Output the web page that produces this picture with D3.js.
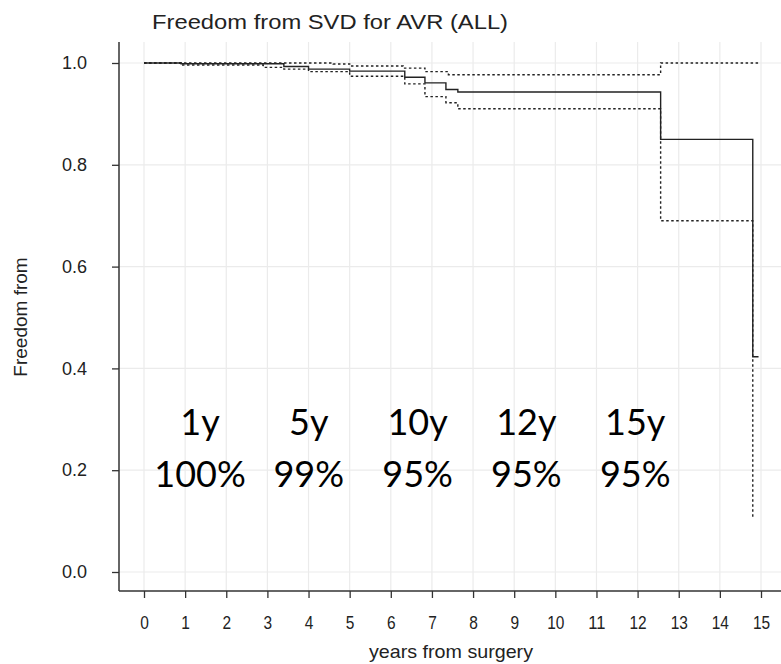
<!DOCTYPE html>
<html>
<head>
<meta charset="utf-8">
<script src="https://cdn.jsdelivr.net/npm/d3@7"></script>
<style>
  html, body { margin: 0; padding: 0; background: #fff; }
  svg { display: block; }
</style>
</head>
<body>
<svg id="chart" width="781" height="664"></svg>
<script>
// ---- data ----
const chartTitle = "Freedom from SVD for AVR (ALL)";
const xTicks = [0,1,2,3,4,5,6,7,8,9,10,11,12,13,14,15];
const yTicks = [0.0, 0.2, 0.4, 0.6, 0.8, 1.0];

const timeMain = [0, 0.9, 3.4, 4.0, 5.0, 6.34, 6.83, 7.34, 7.63, 12.56, 14.8, 14.94];
const survMain = [1.0, 0.9985, 0.993, 0.988, 0.984, 0.972, 0.961, 0.948, 0.943, 0.850, 0.423, 0.423];

const timeUpper = [0, 4.6, 5.0, 6.3, 6.83, 7.4, 12.56, 14.94];
const survUpper = [1.0, 0.998, 0.994, 0.990, 0.983, 0.977, 1.0, 1.0];

const timeLower = [0, 0.9, 2.9, 3.4, 4.0, 5.0, 6.34, 6.83, 7.34, 7.63, 12.56, 14.8];
const survLower = [1.0, 0.996, 0.9915, 0.988, 0.983, 0.974, 0.959, 0.934, 0.922, 0.910, 0.690, 0.106];

const annoYears = ["1y", "5y", "10y", "12y", "15y"];
const annoPct = ["100%", "99%", "95%", "95%", "95%"];

(function () {
const svg = d3.select("#chart");
const pLeft = 119, pTop = 42, pBottom = 591, pRight = 781;
const sans = "'Liberation Sans', Arial, sans-serif";

const x = d3.scaleLinear().domain([0, 15]).range([144, 761]);
const y = d3.scaleLinear().domain([0, 1]).range([572, 63]);

// grid
const grid = svg.append("g");
grid.selectAll("line.v").data(xTicks).enter().append("line")
  .attr("x1", d => x(d)).attr("x2", d => x(d))
  .attr("y1", pTop).attr("y2", pBottom)
  .attr("stroke", "#ebebeb").attr("stroke-width", 1.2);
grid.selectAll("line.h").data(yTicks).enter().append("line")
  .attr("x1", pLeft).attr("x2", pRight)
  .attr("y1", d => y(d)).attr("y2", d => y(d))
  .attr("stroke", "#ebebeb").attr("stroke-width", 1.2);

// x axis
const xAxis = d3.axisBottom(x).tickValues(xTicks).tickSize(7).tickPadding(20).tickFormat(d3.format("d"));
const gx = svg.append("g").attr("transform", `translate(0,${pBottom})`).call(xAxis);
gx.select(".domain").remove();
gx.selectAll(".tick line").attr("stroke", "#333").attr("stroke-width", 1.3);
gx.selectAll(".tick text")
  .attr("font-family", sans).attr("font-size", 19).attr("fill", "#222")
  .attr("dy", null).attr("y", 38)
  .attr("textLength", d => String(d).length * 8.6)
  .attr("lengthAdjust", "spacingAndGlyphs");

// y axis
const yAxis = d3.axisLeft(y).tickValues(yTicks).tickSize(7).tickPadding(25).tickFormat(d3.format(".1f"));
const gy = svg.append("g").attr("transform", `translate(${pLeft},0)`).call(yAxis);
gy.select(".domain").remove();
gy.selectAll(".tick line").attr("stroke", "#333").attr("stroke-width", 1.3);
gy.selectAll(".tick text")
  .attr("font-family", sans).attr("font-size", 18).attr("fill", "#222");

// axis lines
svg.append("line").attr("x1", pLeft).attr("x2", pLeft).attr("y1", pTop).attr("y2", pBottom)
  .attr("stroke", "#333").attr("stroke-width", 1.5);
svg.append("line").attr("x1", pLeft).attr("x2", pRight).attr("y1", pBottom).attr("y2", pBottom)
  .attr("stroke", "#333").attr("stroke-width", 1.5);

// curves
const line = d3.line().x(d => x(d[0])).y(d => y(d[1])).curve(d3.curveStepAfter);
const mk = (t, s) => t.map((v, i) => [v, s[i]]);

svg.append("path").datum(mk(timeUpper, survUpper)).attr("d", line)
  .attr("fill", "none").attr("stroke", "#222").attr("stroke-width", 1.4).attr("stroke-dasharray", "2.5,2.5");
svg.append("path").datum(mk(timeLower, survLower)).attr("d", line)
  .attr("fill", "none").attr("stroke", "#222").attr("stroke-width", 1.4).attr("stroke-dasharray", "2.5,2.5");
svg.append("path").datum(mk(timeMain, survMain)).attr("d", line)
  .attr("fill", "none").attr("stroke", "#222").attr("stroke-width", 1.4);

// title
svg.append("text").attr("x", 152).attr("y", 29)
  .attr("font-family", sans).attr("font-size", 20)
  .attr("textLength", 356).attr("lengthAdjust", "spacingAndGlyphs")
  .attr("fill", "#222").text(chartTitle);

// axis titles
svg.append("text").attr("x", 451).attr("y", 658).attr("text-anchor", "middle")
  .attr("font-family", sans).attr("font-size", 19)
  .attr("textLength", 164).attr("lengthAdjust", "spacingAndGlyphs")
  .attr("fill", "#222").text("years from surgery");
svg.append("text").attr("transform", "translate(27,317) rotate(-90)").attr("text-anchor", "middle")
  .attr("font-family", sans).attr("font-size", 19)
  .attr("fill", "#222").text("Freedom from");

// annotations
const anno = svg.append("g").attr("font-family", "Lato, 'Open Sans', sans-serif").attr("font-size", 36).attr("fill", "#000");
anno.selectAll("text.yr").data(annoYears).enter().append("text")
  .attr("x", (d, i) => 200 + i * 108.8).attr("y", 435).attr("text-anchor", "middle").text(d => d);
anno.selectAll("text.pct").data(annoPct).enter().append("text")
  .attr("x", (d, i) => 200 + i * 108.8).attr("y", 487).attr("text-anchor", "middle").text(d => d);
})();
</script>
</body>
</html>
